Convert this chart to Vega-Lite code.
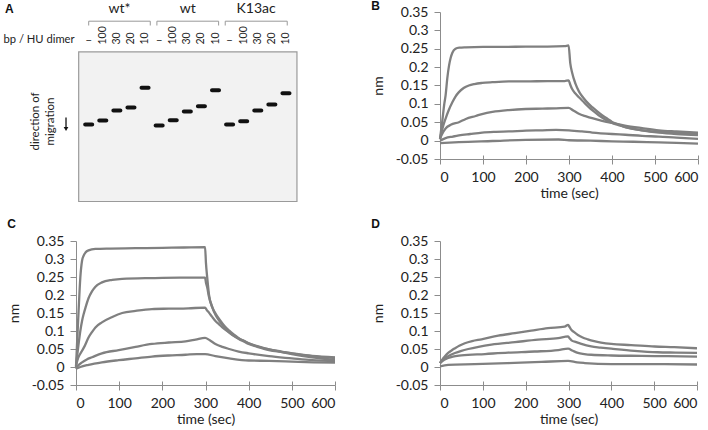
{
  "$schema": "https://vega.github.io/schema/vega-lite/v6.json",
  "padding": {"left": 3, "top": 0, "right": 0, "bottom": 0},
  "background": "white",
  "config": {
    "font": "Lato",
    "view": {"stroke": null},
    "axis": {"grid": false, "domainColor": "#8c8c8c", "tickColor": "#8c8c8c", "labelFont": "Lato", "labelFontSize": 14, "labelColor": "#222222", "titleFont": "Lato", "titleFontSize": 14, "titleFontWeight": "normal", "titleColor": "#222222", "labelOverlap": false},
    "axisX": {"tickSize": 5, "labelPadding": 6, "titlePadding": 2},
    "axisY": {"tickSize": 6, "labelPadding": 6, "titlePadding": 10},
    "title": {"anchor": "start", "frame": "bounds", "fontSize": 12, "fontWeight": "bold", "font": "Liberation Sans", "offset": -8, "color": "#111111"},
    "line": {"color": "#808080", "strokeWidth": 2.3, "interpolate": "monotone"}
  },
  "datasets": {
    "gel": [
      {"lane": 1, "protein": "wt*", "ratio": "–", "migration": 125},
      {"lane": 2, "protein": "wt*", "ratio": "100", "migration": 121},
      {"lane": 3, "protein": "wt*", "ratio": "30", "migration": 111},
      {"lane": 4, "protein": "wt*", "ratio": "20", "migration": 108},
      {"lane": 5, "protein": "wt*", "ratio": "10", "migration": 88.3},
      {"lane": 6, "protein": "wt", "ratio": "–", "migration": 126},
      {"lane": 7, "protein": "wt", "ratio": "100", "migration": 120.7},
      {"lane": 8, "protein": "wt", "ratio": "30", "migration": 112},
      {"lane": 9, "protein": "wt", "ratio": "20", "migration": 106.7},
      {"lane": 10, "protein": "wt", "ratio": "10", "migration": 90.7},
      {"lane": 11, "protein": "K13ac", "ratio": "–", "migration": 125},
      {"lane": 12, "protein": "K13ac", "ratio": "100", "migration": 121.7},
      {"lane": 13, "protein": "K13ac", "ratio": "30", "migration": 111},
      {"lane": 14, "protein": "K13ac", "ratio": "20", "migration": 105},
      {"lane": 15, "protein": "K13ac", "ratio": "10", "migration": 93.7}
    ],
    "groups": [
      {"protein": "wt*", "from": 1.0, "to": 5.37, "mid": 3.18},
      {"protein": "wt", "from": 5.84, "to": 10.22, "mid": 8.03},
      {"protein": "K13ac", "from": 10.69, "to": 15.09, "mid": 12.88}
    ],
    "B": [
      {"c":1,"t":0,"v":0.005},{"c":1,"t":5,"v":0.05},{"c":1,"t":10,"v":0.1},{"c":1,"t":13,"v":0.123},{"c":1,"t":17,"v":0.17},{"c":1,"t":21,"v":0.204},{"c":1,"t":25,"v":0.226},{"c":1,"t":29,"v":0.24},{"c":1,"t":36,"v":0.25},{"c":1,"t":45,"v":0.253},{"c":1,"t":60,"v":0.254},{"c":1,"t":100,"v":0.255},{"c":1,"t":150,"v":0.255},{"c":1,"t":200,"v":0.256},{"c":1,"t":250,"v":0.256},{"c":1,"t":290,"v":0.257},{"c":1,"t":299,"v":0.259},{"c":1,"t":303,"v":0.21},{"c":1,"t":307,"v":0.186},{"c":1,"t":315,"v":0.155},{"c":1,"t":323,"v":0.134},{"c":1,"t":331,"v":0.12},{"c":1,"t":340,"v":0.107},{"c":1,"t":354,"v":0.091},{"c":1,"t":365,"v":0.08},{"c":1,"t":377,"v":0.069},{"c":1,"t":390,"v":0.059},{"c":1,"t":400,"v":0.051},{"c":1,"t":415,"v":0.044},{"c":1,"t":431,"v":0.037},{"c":1,"t":450,"v":0.032},{"c":1,"t":470,"v":0.028},{"c":1,"t":509,"v":0.024},{"c":1,"t":550,"v":0.021},{"c":1,"t":600,"v":0.019},
      {"c":2,"t":0,"v":0.005},{"c":2,"t":5,"v":0.03},{"c":2,"t":13,"v":0.06},{"c":2,"t":20,"v":0.082},{"c":2,"t":29,"v":0.105},{"c":2,"t":36,"v":0.12},{"c":2,"t":44,"v":0.132},{"c":2,"t":55,"v":0.143},{"c":2,"t":67,"v":0.15},{"c":2,"t":80,"v":0.154},{"c":2,"t":98,"v":0.157},{"c":2,"t":122,"v":0.159},{"c":2,"t":160,"v":0.161},{"c":2,"t":200,"v":0.161},{"c":2,"t":250,"v":0.162},{"c":2,"t":290,"v":0.162},{"c":2,"t":299,"v":0.164},{"c":2,"t":303,"v":0.152},{"c":2,"t":307,"v":0.141},{"c":2,"t":315,"v":0.128},{"c":2,"t":323,"v":0.118},{"c":2,"t":335,"v":0.104},{"c":2,"t":346,"v":0.091},{"c":2,"t":357,"v":0.08},{"c":2,"t":369,"v":0.069},{"c":2,"t":385,"v":0.057},{"c":2,"t":400,"v":0.048},{"c":2,"t":415,"v":0.042},{"c":2,"t":431,"v":0.037},{"c":2,"t":470,"v":0.028},{"c":2,"t":509,"v":0.022},{"c":2,"t":550,"v":0.018},{"c":2,"t":600,"v":0.015},
      {"c":3,"t":0,"v":0.005},{"c":3,"t":5,"v":0.018},{"c":3,"t":13,"v":0.033},{"c":3,"t":25,"v":0.043},{"c":3,"t":44,"v":0.05},{"c":3,"t":60,"v":0.059},{"c":3,"t":83,"v":0.067},{"c":3,"t":100,"v":0.073},{"c":3,"t":122,"v":0.078},{"c":3,"t":160,"v":0.083},{"c":3,"t":199,"v":0.086},{"c":3,"t":238,"v":0.087},{"c":3,"t":270,"v":0.088},{"c":3,"t":299,"v":0.089},{"c":3,"t":310,"v":0.082},{"c":3,"t":323,"v":0.073},{"c":3,"t":340,"v":0.066},{"c":3,"t":354,"v":0.061},{"c":3,"t":377,"v":0.054},{"c":3,"t":400,"v":0.048},{"c":3,"t":430,"v":0.041},{"c":3,"t":470,"v":0.034},{"c":3,"t":509,"v":0.028},{"c":3,"t":550,"v":0.025},{"c":3,"t":600,"v":0.022},
      {"c":4,"t":0,"v":0},{"c":4,"t":13,"v":0.007},{"c":4,"t":30,"v":0.011},{"c":4,"t":44,"v":0.014},{"c":4,"t":70,"v":0.018},{"c":4,"t":98,"v":0.022},{"c":4,"t":130,"v":0.024},{"c":4,"t":160,"v":0.025},{"c":4,"t":200,"v":0.027},{"c":4,"t":238,"v":0.028},{"c":4,"t":270,"v":0.029},{"c":4,"t":300,"v":0.028},{"c":4,"t":330,"v":0.025},{"c":4,"t":354,"v":0.022},{"c":4,"t":400,"v":0.018},{"c":4,"t":431,"v":0.016},{"c":4,"t":470,"v":0.013},{"c":4,"t":509,"v":0.011},{"c":4,"t":550,"v":0.008},{"c":4,"t":600,"v":0.005},
      {"c":5,"t":0,"v":-0.007},{"c":5,"t":44,"v":-0.004},{"c":5,"t":122,"v":-0.001},{"c":5,"t":199,"v":0.002},{"c":5,"t":276,"v":0.003},{"c":5,"t":300,"v":0.001},{"c":5,"t":350,"v":0},{"c":5,"t":400,"v":-0.002},{"c":5,"t":450,"v":-0.003},{"c":5,"t":509,"v":-0.005},{"c":5,"t":550,"v":-0.006},{"c":5,"t":600,"v":-0.008}
    ],
    "C": [
      {"c":1,"t":0,"v":0},{"c":1,"t":3,"v":0.08},{"c":1,"t":6,"v":0.156},{"c":1,"t":10,"v":0.248},{"c":1,"t":14,"v":0.295},{"c":1,"t":18,"v":0.31},{"c":1,"t":22,"v":0.318},{"c":1,"t":29,"v":0.324},{"c":1,"t":45,"v":0.328},{"c":1,"t":80,"v":0.329},{"c":1,"t":138,"v":0.33},{"c":1,"t":200,"v":0.331},{"c":1,"t":250,"v":0.332},{"c":1,"t":299,"v":0.333},{"c":1,"t":301,"v":0.29},{"c":1,"t":304,"v":0.248},{"c":1,"t":308,"v":0.202},{"c":1,"t":316,"v":0.165},{"c":1,"t":324,"v":0.143},{"c":1,"t":332,"v":0.128},{"c":1,"t":344,"v":0.11},{"c":1,"t":355,"v":0.096},{"c":1,"t":366,"v":0.086},{"c":1,"t":377,"v":0.078},{"c":1,"t":390,"v":0.07},{"c":1,"t":400,"v":0.064},{"c":1,"t":420,"v":0.056},{"c":1,"t":447,"v":0.047},{"c":1,"t":475,"v":0.042},{"c":1,"t":500,"v":0.038},{"c":1,"t":547,"v":0.031},{"c":1,"t":600,"v":0.027},
      {"c":2,"t":0,"v":0.004},{"c":2,"t":6,"v":0.064},{"c":2,"t":10,"v":0.1},{"c":2,"t":14,"v":0.128},{"c":2,"t":18,"v":0.148},{"c":2,"t":22,"v":0.165},{"c":2,"t":29,"v":0.191},{"c":2,"t":37,"v":0.21},{"c":2,"t":45,"v":0.223},{"c":2,"t":60,"v":0.235},{"c":2,"t":84,"v":0.242},{"c":2,"t":107,"v":0.245},{"c":2,"t":176,"v":0.247},{"c":2,"t":240,"v":0.248},{"c":2,"t":299,"v":0.248},{"c":2,"t":301,"v":0.235},{"c":2,"t":304,"v":0.221},{"c":2,"t":308,"v":0.195},{"c":2,"t":316,"v":0.165},{"c":2,"t":324,"v":0.147},{"c":2,"t":332,"v":0.133},{"c":2,"t":344,"v":0.114},{"c":2,"t":355,"v":0.101},{"c":2,"t":366,"v":0.09},{"c":2,"t":377,"v":0.08},{"c":2,"t":390,"v":0.072},{"c":2,"t":400,"v":0.066},{"c":2,"t":420,"v":0.057},{"c":2,"t":447,"v":0.049},{"c":2,"t":475,"v":0.043},{"c":2,"t":500,"v":0.038},{"c":2,"t":547,"v":0.03},{"c":2,"t":600,"v":0.025},
      {"c":3,"t":0,"v":0.004},{"c":3,"t":5,"v":0.025},{"c":3,"t":14,"v":0.045},{"c":3,"t":20,"v":0.058},{"c":3,"t":29,"v":0.082},{"c":3,"t":37,"v":0.097},{"c":3,"t":45,"v":0.11},{"c":3,"t":60,"v":0.124},{"c":3,"t":84,"v":0.139},{"c":3,"t":107,"v":0.15},{"c":3,"t":138,"v":0.156},{"c":3,"t":176,"v":0.161},{"c":3,"t":215,"v":0.162},{"c":3,"t":260,"v":0.163},{"c":3,"t":299,"v":0.165},{"c":3,"t":303,"v":0.158},{"c":3,"t":308,"v":0.151},{"c":3,"t":315,"v":0.14},{"c":3,"t":323,"v":0.128},{"c":3,"t":331,"v":0.119},{"c":3,"t":339,"v":0.11},{"c":3,"t":355,"v":0.096},{"c":3,"t":366,"v":0.087},{"c":3,"t":377,"v":0.079},{"c":3,"t":390,"v":0.072},{"c":3,"t":400,"v":0.066},{"c":3,"t":420,"v":0.058},{"c":3,"t":447,"v":0.049},{"c":3,"t":475,"v":0.042},{"c":3,"t":500,"v":0.036},{"c":3,"t":547,"v":0.027},{"c":3,"t":600,"v":0.02},
      {"c":4,"t":0,"v":-0.005},{"c":4,"t":5,"v":0.004},{"c":4,"t":14,"v":0.013},{"c":4,"t":25,"v":0.021},{"c":4,"t":37,"v":0.027},{"c":4,"t":60,"v":0.038},{"c":4,"t":99,"v":0.047},{"c":4,"t":138,"v":0.056},{"c":4,"t":176,"v":0.064},{"c":4,"t":215,"v":0.068},{"c":4,"t":254,"v":0.071},{"c":4,"t":277,"v":0.076},{"c":4,"t":299,"v":0.081},{"c":4,"t":310,"v":0.074},{"c":4,"t":323,"v":0.064},{"c":4,"t":339,"v":0.056},{"c":4,"t":355,"v":0.05},{"c":4,"t":377,"v":0.043},{"c":4,"t":400,"v":0.038},{"c":4,"t":447,"v":0.03},{"c":4,"t":500,"v":0.024},{"c":4,"t":547,"v":0.019},{"c":4,"t":600,"v":0.016},
      {"c":5,"t":0,"v":-0.005},{"c":5,"t":10,"v":0},{"c":5,"t":29,"v":0.006},{"c":5,"t":60,"v":0.013},{"c":5,"t":99,"v":0.019},{"c":5,"t":138,"v":0.024},{"c":5,"t":176,"v":0.029},{"c":5,"t":215,"v":0.032},{"c":5,"t":254,"v":0.034},{"c":5,"t":280,"v":0.036},{"c":5,"t":299,"v":0.036},{"c":5,"t":323,"v":0.03},{"c":5,"t":355,"v":0.024},{"c":5,"t":400,"v":0.018},{"c":5,"t":447,"v":0.017},{"c":5,"t":500,"v":0.015},{"c":5,"t":550,"v":0.013},{"c":5,"t":600,"v":0.012}
    ],
    "D": [
      {"c":1,"t":0,"v":0.011},{"c":1,"t":4,"v":0.018},{"c":1,"t":8,"v":0.025},{"c":1,"t":13,"v":0.032},{"c":1,"t":19,"v":0.039},{"c":1,"t":27,"v":0.046},{"c":1,"t":35,"v":0.052},{"c":1,"t":45,"v":0.059},{"c":1,"t":58,"v":0.066},{"c":1,"t":75,"v":0.072},{"c":1,"t":97,"v":0.077},{"c":1,"t":136,"v":0.087},{"c":1,"t":175,"v":0.094},{"c":1,"t":213,"v":0.101},{"c":1,"t":252,"v":0.108},{"c":1,"t":291,"v":0.112},{"c":1,"t":299,"v":0.117},{"c":1,"t":303,"v":0.11},{"c":1,"t":307,"v":0.103},{"c":1,"t":314,"v":0.096},{"c":1,"t":322,"v":0.089},{"c":1,"t":333,"v":0.082},{"c":1,"t":345,"v":0.077},{"c":1,"t":360,"v":0.072},{"c":1,"t":376,"v":0.068},{"c":1,"t":400,"v":0.064},{"c":1,"t":446,"v":0.061},{"c":1,"t":501,"v":0.057},{"c":1,"t":547,"v":0.055},{"c":1,"t":600,"v":0.052},
      {"c":2,"t":0,"v":0.011},{"c":2,"t":5,"v":0.018},{"c":2,"t":12,"v":0.025},{"c":2,"t":22,"v":0.032},{"c":2,"t":35,"v":0.039},{"c":2,"t":50,"v":0.045},{"c":2,"t":66,"v":0.05},{"c":2,"t":90,"v":0.056},{"c":2,"t":120,"v":0.062},{"c":2,"t":175,"v":0.069},{"c":2,"t":229,"v":0.076},{"c":2,"t":276,"v":0.08},{"c":2,"t":299,"v":0.085},{"c":2,"t":303,"v":0.079},{"c":2,"t":307,"v":0.074},{"c":2,"t":318,"v":0.069},{"c":2,"t":330,"v":0.064},{"c":2,"t":353,"v":0.057},{"c":2,"t":375,"v":0.054},{"c":2,"t":400,"v":0.051},{"c":2,"t":454,"v":0.045},{"c":2,"t":508,"v":0.041},{"c":2,"t":550,"v":0.04},{"c":2,"t":600,"v":0.039},
      {"c":3,"t":0,"v":0.011},{"c":3,"t":5,"v":0.016},{"c":3,"t":10,"v":0.02},{"c":3,"t":19,"v":0.025},{"c":3,"t":30,"v":0.029},{"c":3,"t":50,"v":0.032},{"c":3,"t":105,"v":0.036},{"c":3,"t":159,"v":0.04},{"c":3,"t":221,"v":0.043},{"c":3,"t":276,"v":0.047},{"c":3,"t":299,"v":0.051},{"c":3,"t":310,"v":0.045},{"c":3,"t":322,"v":0.039},{"c":3,"t":337,"v":0.036},{"c":3,"t":353,"v":0.034},{"c":3,"t":400,"v":0.032},{"c":3,"t":470,"v":0.031},{"c":3,"t":532,"v":0.03},{"c":3,"t":600,"v":0.029},
      {"c":4,"t":0,"v":0.002},{"c":4,"t":19,"v":0.006},{"c":4,"t":81,"v":0.008},{"c":4,"t":159,"v":0.011},{"c":4,"t":237,"v":0.014},{"c":4,"t":299,"v":0.017},{"c":4,"t":320,"v":0.013},{"c":4,"t":338,"v":0.011},{"c":4,"t":400,"v":0.008},{"c":4,"t":508,"v":0.008},{"c":4,"t":600,"v":0.007}
    ]
  },
  "columns": 2,
  "spacing": {"row": 15, "column": 31},
  "concat": [
    {
      "width": 259,
      "height": 186,
      "layer": [
        {
          "data": {"values": [{}]},
          "mark": {"type": "rect", "fill": "#f2f2f2", "stroke": "#9a9a9a", "strokeWidth": 1.2},
          "encoding": {
            "x": {"datum": 0.29, "type": "quantitative", "scale": {"domain": [0.099, 18.48], "nice": false, "zero": false}, "axis": null},
            "x2": {"datum": 15.78},
            "y": {"datum": 52.3, "type": "quantitative", "scale": {"domain": [12.5, 198.5], "nice": false, "zero": false, "reverse": true}, "axis": null},
            "y2": {"datum": 202}
          }
        },
        {
          "data": {"name": "gel"},
          "mark": {"type": "tick", "orient": "horizontal", "size": 11, "thickness": 4, "color": "#111111", "cornerRadius": 2, "opacity": 1},
          "encoding": {
            "x": {"field": "lane", "type": "quantitative"},
            "y": {"field": "migration", "type": "quantitative"}
          }
        },
        {
          "data": {"name": "gel"},
          "transform": [{"filter": "datum.ratio !== '–'"}],
          "mark": {"type": "text", "angle": 270, "align": "left", "baseline": "middle", "fontSize": 10.5, "color": "#222222"},
          "encoding": {
            "x": {"field": "lane", "type": "quantitative"},
            "y": {"datum": 45},
            "text": {"field": "ratio"}
          }
        },
        {
          "data": {"name": "gel"},
          "transform": [{"filter": "datum.ratio === '–'"}],
          "mark": {"type": "text", "align": "center", "baseline": "middle", "fontSize": 12, "color": "#222222"},
          "encoding": {
            "x": {"field": "lane", "type": "quantitative"},
            "y": {"datum": 40.7},
            "text": {"field": "ratio"}
          }
        },
        {
          "data": {"name": "groups"},
          "mark": {"type": "rule", "color": "#999999", "strokeWidth": 1},
          "encoding": {
            "x": {"field": "from", "type": "quantitative"},
            "x2": {"field": "to"},
            "y": {"datum": 21.7}
          }
        },
        {
          "data": {"name": "groups"},
          "transform": [{"fold": ["from", "to"], "as": ["end", "edge"]}],
          "mark": {"type": "rule", "color": "#999999", "strokeWidth": 1},
          "encoding": {
            "x": {"field": "edge", "type": "quantitative"},
            "y": {"datum": 21.7},
            "y2": {"datum": 26}
          }
        },
        {
          "data": {"name": "groups"},
          "mark": {"type": "text", "align": "center", "baseline": "middle", "fontSize": 14, "color": "#222222"},
          "encoding": {
            "x": {"field": "mid", "type": "quantitative"},
            "y": {"datum": 9},
            "text": {"field": "protein"}
          }
        },
        {
          "data": {"values": [{}]},
          "mark": {"type": "text", "align": "right", "baseline": "middle", "fontSize": 11.2, "color": "#222222", "text": "bp / HU dimer"},
          "encoding": {
            "x": {"datum": 0, "type": "quantitative"},
            "y": {"datum": 40}
          }
        },
        {
          "data": {"values": [{}]},
          "mark": {"type": "text", "align": "center", "baseline": "middle", "angle": 270, "fontSize": 11.5, "color": "#222222", "text": "direction of"},
          "encoding": {
            "x": {"datum": -2.77, "type": "quantitative"},
            "y": {"datum": 122}
          }
        },
        {
          "data": {"values": [{}]},
          "mark": {"type": "text", "align": "center", "baseline": "middle", "angle": 270, "fontSize": 11.5, "color": "#222222", "text": "migration"},
          "encoding": {
            "x": {"datum": -1.7, "type": "quantitative"},
            "y": {"datum": 122}
          }
        },
        {
          "data": {"values": [{}]},
          "mark": {"type": "rule", "color": "#111111", "strokeWidth": 1.3},
          "encoding": {
            "x": {"datum": -0.61, "type": "quantitative"},
            "y": {"datum": 118},
            "y2": {"datum": 129}
          }
        },
        {
          "data": {"values": [{}]},
          "mark": {"type": "point", "shape": "triangle-down", "filled": true, "size": 22, "color": "#111111", "opacity": 1},
          "encoding": {
            "x": {"datum": -0.61, "type": "quantitative"},
            "y": {"datum": 129.5}
          }
        },
        {
          "data": {"values": [{}]},
          "mark": {"type": "text", "align": "left", "baseline": "middle", "fontSize": 12, "fontWeight": "bold", "font": "Liberation Sans", "color": "#111111", "text": "A"},
          "encoding": {
            "x": {"datum": -4.94, "type": "quantitative"},
            "y": {"datum": 9}
          }
        }
      ]
    },
    {
      "title": {"text": "B"},
      "width": 258,
      "height": 147,
      "data": {"name": "B"},
      "layer": [
        {
          "mark": {"type": "line"},
          "encoding": {
            "x": {"field": "t", "type": "quantitative", "scale": {"domain": [0, 600], "nice": false}, "axis": {"title": "time (sec)", "values": [0, 100, 200, 300, 400, 500, 600]}},
            "y": {"field": "v", "type": "quantitative", "scale": {"domain": [-0.05, 0.35], "nice": false, "zero": false}, "axis": {"title": "nm", "labelOverlap": false, "values": [-0.05, 0, 0.05, 0.1, 0.15, 0.2, 0.25, 0.3, 0.35], "labelExpr": "replace(format(datum.value, '.2~f'), '−', '-')"}},
            "detail": {"field": "c", "type": "nominal"}
          }
        },
        {
          "mark": {"type": "line", "opacity": 0},
          "encoding": {
            "x": {"field": "t", "type": "quantitative", "axis": {"orient": "bottom", "offset": -4, "tickSize": 4, "labels": false, "domain": false, "title": null, "values": [0, 100, 200, 300, 400, 500, 600]}},
            "y": {"field": "v", "type": "quantitative", "axis": {"title": "nm", "labelOverlap": false, "values": [-0.05, 0, 0.05, 0.1, 0.15, 0.2, 0.25, 0.3, 0.35], "labelExpr": "replace(format(datum.value, '.2~f'), '−', '-')"}},
            "detail": {"field": "c", "type": "nominal"}
          }
        }
      ],
      "resolve": {"axis": {"x": "independent"}}
    },
    {
      "title": {"text": "C", "offset": 3},
      "width": 259,
      "height": 144,
      "data": {"name": "C"},
      "layer": [
        {
          "mark": {"type": "line"},
          "encoding": {
            "x": {"field": "t", "type": "quantitative", "scale": {"domain": [0, 600], "nice": false}, "axis": {"title": "time (sec)", "values": [0, 100, 200, 300, 400, 500, 600]}},
            "y": {"field": "v", "type": "quantitative", "scale": {"domain": [-0.05, 0.35], "nice": false, "zero": false}, "axis": {"title": "nm", "labelOverlap": false, "values": [-0.05, 0, 0.05, 0.1, 0.15, 0.2, 0.25, 0.3, 0.35], "labelExpr": "replace(format(datum.value, '.2~f'), '−', '-')"}},
            "detail": {"field": "c", "type": "nominal"}
          }
        },
        {
          "mark": {"type": "line", "opacity": 0},
          "encoding": {
            "x": {"field": "t", "type": "quantitative", "axis": {"orient": "bottom", "offset": -4, "tickSize": 4, "labels": false, "domain": false, "title": null, "values": [0, 100, 200, 300, 400, 500, 600]}},
            "y": {"field": "v", "type": "quantitative", "axis": {"title": "nm", "labelOverlap": false, "values": [-0.05, 0, 0.05, 0.1, 0.15, 0.2, 0.25, 0.3, 0.35], "labelExpr": "replace(format(datum.value, '.2~f'), '−', '-')"}},
            "detail": {"field": "c", "type": "nominal"}
          }
        }
      ],
      "resolve": {"axis": {"x": "independent"}}
    },
    {
      "title": {"text": "D", "offset": 3},
      "width": 257,
      "height": 144,
      "data": {"name": "D"},
      "layer": [
        {
          "mark": {"type": "line"},
          "encoding": {
            "x": {"field": "t", "type": "quantitative", "scale": {"domain": [0, 600], "nice": false}, "axis": {"title": "time (sec)", "values": [0, 100, 200, 300, 400, 500, 600]}},
            "y": {"field": "v", "type": "quantitative", "scale": {"domain": [-0.05, 0.35], "nice": false, "zero": false}, "axis": {"title": "nm", "labelOverlap": false, "values": [-0.05, 0, 0.05, 0.1, 0.15, 0.2, 0.25, 0.3, 0.35], "labelExpr": "replace(format(datum.value, '.2~f'), '−', '-')"}},
            "detail": {"field": "c", "type": "nominal"}
          }
        },
        {
          "mark": {"type": "line", "opacity": 0},
          "encoding": {
            "x": {"field": "t", "type": "quantitative", "axis": {"orient": "bottom", "offset": -4, "tickSize": 4, "labels": false, "domain": false, "title": null, "values": [0, 100, 200, 300, 400, 500, 600]}},
            "y": {"field": "v", "type": "quantitative", "axis": {"title": "nm", "labelOverlap": false, "values": [-0.05, 0, 0.05, 0.1, 0.15, 0.2, 0.25, 0.3, 0.35], "labelExpr": "replace(format(datum.value, '.2~f'), '−', '-')"}},
            "detail": {"field": "c", "type": "nominal"}
          }
        }
      ],
      "resolve": {"axis": {"x": "independent"}}
    }
  ]
}
